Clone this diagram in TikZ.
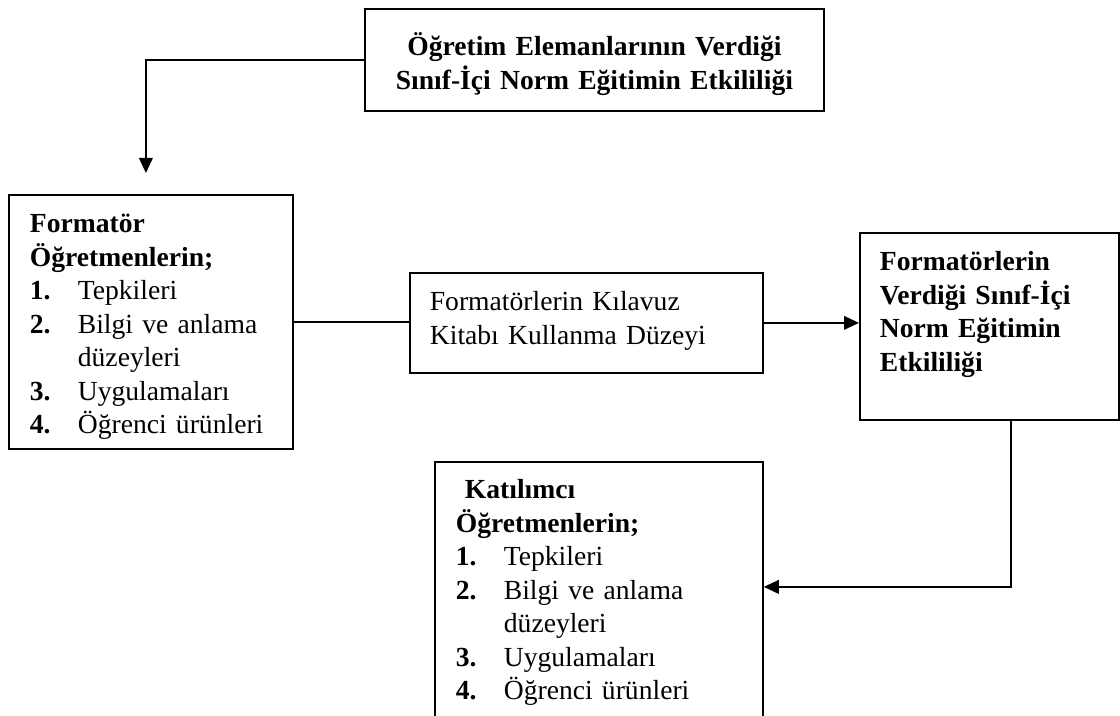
\documentclass[tikz,border=0pt]{standalone}
\usepackage{fontspec}
\setmainfont{Liberation Serif}
\usepackage{tikz}
\usetikzlibrary{arrows.meta, positioning, calc}
\newcommand{\itemno}[1]{\makebox[24pt][l]{\textbf{#1.}}}
\begin{document}
\begin{tikzpicture}[
    x=0.5pt, y=-0.5pt,
    box/.style={rectangle, draw=black, line width=0.9pt, anchor=north west, inner ysep=0pt, inner xsep=10.5pt, align=left, font={\fontsize{13.8}{16.75}\selectfont\hyphenpenalty 10000\relax}},
    line/.style={line width=0.9pt},
    arrow/.style={line width=0.9pt, -{Triangle[length=7.5pt, width=6.8pt]}}
]
\useasboundingbox (0,0) rectangle (1120,716);

\node[box, align=center, inner xsep=4pt, minimum width=229.5pt, text width=221.5pt, text height=23.5pt, text depth=27.5pt] (eval) at (364,8) {\textbf{Öğretim Elemanlarının Verdiği}\\\textbf{Sınıf-İçi Norm Eğitimin Etkililiği}};
\node[box, minimum width=142pt, text width=121pt, text height=19pt, text depth=108pt] (formator) at (8,194) {\textbf{Formatör}\\\textbf{Öğretmenlerin;}\\\itemno{1}Tepkileri\\\itemno{2}Bilgi~ve~anlama\\\hspace*{24pt}düzeyleri\\\itemno{3}Uygulamaları\\\itemno{4}Öğrenci~ürünleri};
\node[box, inner xsep=10pt, minimum width=176.5pt, text width=156.5pt, text height=19pt, text depth=31pt] (kilavuz) at (409,272) {Formatörlerin Kılavuz\\Kitabı Kullanma Düzeyi};
\node[box, inner xsep=10pt, minimum width=129.5pt, text width=109.5pt, text height=19pt, text depth=74.5pt] (etkililik) at (859,232) {\textbf{Formatörlerin}\\\textbf{Verdiği~Sınıf-İçi}\\\textbf{Norm Eğitimin}\\\textbf{Etkililiği}};
\node[box, minimum width=164pt, text width=143pt, text height=18.5pt, text depth=131pt] (katilimci) at (434,461) {\hspace*{4.5pt}\textbf{Katılımcı}\\\textbf{Öğretmenlerin;}\\\itemno{1}Tepkileri\\\itemno{2}Bilgi~ve~anlama\\\hspace*{24pt}düzeyleri\\\itemno{3}Uygulamaları\\\itemno{4}Öğrenci~ürünleri};

\draw[arrow, shorten >=10.5pt] (eval.west) -| ([xshift=-2.5pt]formator.north);
\draw[line] (formator.east) -- (formator.east -| kilavuz.west);
\draw[arrow] (kilavuz.east) -- (kilavuz.east -| etkililik.west);
\draw[arrow] ([xshift=10.75pt]etkililik.south) |- ([yshift=12.25pt]katilimci.east);

\end{tikzpicture}
\end{document}
